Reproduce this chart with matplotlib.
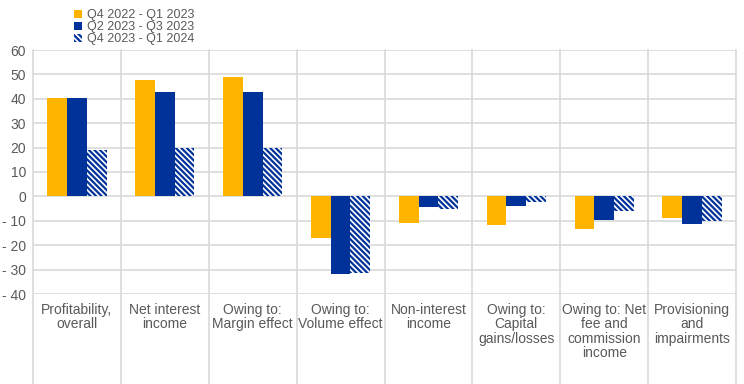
import matplotlib
matplotlib.use("Agg")
import matplotlib.pyplot as plt
import numpy as np

plt.rcParams['font.family'] = ['Liberation Sans', 'DejaVu Sans']
plt.rcParams['hatch.linewidth'] = 1.6

categories = ["Profitability,\noverall", "Net interest\nincome", "Owing to:\nMargin effect",
              "Owing to:\nVolume effect", "Non-interest\nincome", "Owing to:\nCapital\ngains/losses",
              "Owing to: Net\nfee and\ncommission\nincome", "Provisioning\nand\nimpairments"]
series_names = ["Q4 2022 - Q1 2023", "Q2 2023 - Q3 2023", "Q4 2023 - Q1 2024"]
s1 = [40.5, 47.5, 48.8, -17.1, -10.8, -11.8, -13.4, -8.8]
s2 = [40.5, 42.8, 42.8, -31.9, -4.5, -4.0, -9.6, -11.2]
s3 = [18.9, 19.9, 19.9, -31.5, -5.2, -2.2, -6.0, -10.2]
yticks = [-40, -30, -20, -10, 0, 10, 20, 30, 40, 50, 60]
ytick_labels = ["- 40", "- 30", "- 20", "- 10", "0", "10", "20", "30", "40", "50", "60"]

yellow = "#FFB400"
blue = "#003299"
grid = "#D9D9D9"
txt = "#595959"

W, H = 744, 384
fig = plt.figure(figsize=(W / 100, H / 100), dpi=100)
x0, x1, ytop, ybot = 33, 736, 50, 294
ax = fig.add_axes([x0 / W, 1 - ybot / H, (x1 - x0) / W, (ybot - ytop) / H])

n = len(categories)
x = np.arange(n)
bw = 0.225
ax.bar(x - bw, s1, bw, color=yellow, label=series_names[0], zorder=3)
ax.bar(x, s2, bw, color=blue, label=series_names[1], zorder=3)
ax.bar(x + bw, s3, bw, color="white", edgecolor=blue, linewidth=0, hatch="\\\\\\\\\\\\",
       label=series_names[2], zorder=3)

ax.set_xlim(-0.5, n - 0.5)
ax.set_ylim(-40, 60)
ax.set_yticks(yticks)
ax.set_yticklabels(ytick_labels, fontsize=10, color=txt)
ax.tick_params(axis='y', length=0, pad=5)
ax.set_xticks([])
for s in ax.spines.values():
    s.set_visible(False)
for yv in yticks:
    ax.axhline(yv, color=grid, lw=1.2, zorder=1)
ext = -(H - ybot) / (ybot - ytop)
trans = ax.get_xaxis_transform()
for b in np.arange(-0.5, n, 1.0):
    ax.plot([b, b], [ext, 1], color=grid, lw=1.2, transform=trans, clip_on=False, zorder=1)

for i, c in enumerate(categories):
    ax.text(i, -0.035, c, transform=trans, ha="center", va="top", fontsize=10,
            color=txt, linespacing=1.05)

leg = fig.legend(loc="upper left", bbox_to_anchor=(68 / W, 1 - 3 / H), frameon=False,
                 fontsize=9, handlelength=0.6, handleheight=0.6, handletextpad=0.4,
                 labelspacing=0.0, borderpad=0, labelcolor=txt)

fig.savefig("out.png", dpi=100)
